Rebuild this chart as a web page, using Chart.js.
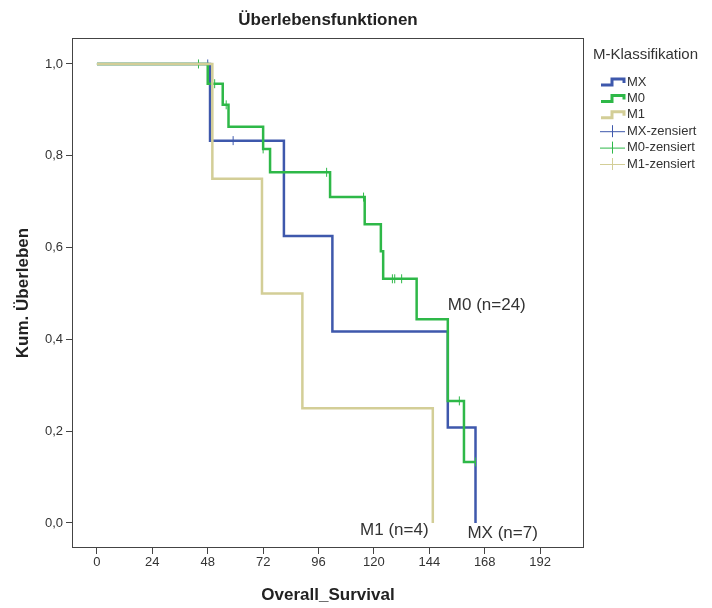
<!DOCTYPE html>
<html>
<head>
<meta charset="utf-8">
<script src="https://cdn.jsdelivr.net/npm/chart.js@4.4.1/dist/chart.umd.min.js"></script>
<style>
  body { margin: 0; background: #fff; }
  #wrap { width: 712px; height: 608px; }
</style>
</head>
<body>
<div id="wrap"><canvas id="km" width="712" height="608"></canvas></div>
<script>
// Kaplan-Meier steps (time in months, cumulative survival)
const mxTime = [0, 49, 81, 102, 152, 164];
const mxSurv = [1.0, 0.833, 0.625, 0.417, 0.208, 0.0];
const mxCensTime = [48, 59];
const mxCensSurv = [1.0, 0.833];

const m0Time = [0, 48, 54.5, 57, 72, 75, 101, 116, 123, 124, 138.5, 152, 159, 164];
const m0Surv = [1.0, 0.957, 0.911, 0.863, 0.815, 0.764, 0.710, 0.651, 0.592, 0.532, 0.444, 0.266, 0.133, 0.133];
const m0CensTime = [44, 51, 56, 72, 99.5, 115.5, 128, 129, 132, 157, 164];
const m0CensSurv = [1.0, 0.957, 0.911, 0.815, 0.764, 0.710, 0.532, 0.532, 0.532, 0.266, 0.133];

const m1Time = [0, 50, 71.5, 89, 145.5];
const m1Surv = [1.0, 0.75, 0.5, 0.25, 0.0];

const xTicks = [0, 24, 48, 72, 96, 120, 144, 168, 192];
const yTicks = [0, 0.2, 0.4, 0.6, 0.8, 1.0];

const groups = ['MX', 'M0', 'M1'];
const groupLabels = ['MX (n=7)', 'M0 (n=24)', 'M1 (n=4)'];

const BLUE = '#3e58ac';
const GREEN = '#2eb848';
const TAN = '#d3ce97';
const FONT = '"Liberation Sans", Arial, sans-serif';
const TEXT = '#333';

function pts(xs, ys) {
    return xs.map((x, i) => ({ x: x, y: ys[i] }));
}

function stepSet(label, xs, ys, color) {
    return {
        label: label,
        data: pts(xs, ys),
        borderColor: color,
        borderWidth: 2.5,
        stepped: 'before',
        pointRadius: 0,
        fill: false,
        borderCapStyle: 'butt'
    };
}

function censSet(label, xs, ys, color) {
    return {
        label: label,
        type: 'scatter',
        data: pts(xs, ys),
        borderColor: color,
        backgroundColor: color,
        pointStyle: 'line',
        rotation: 90,
        pointRadius: 4.5,
        borderWidth: 1,
        showLine: false
    };
}

// frame, title, legend and curve labels
const decorations = {
    id: 'decorations',
    afterDraw(chart) {
        const ctx = chart.ctx;
        const a = chart.chartArea;
        const xs = chart.scales.x;
        const ys = chart.scales.y;
        ctx.save();
        ctx.strokeStyle = '#444';
        ctx.lineWidth = 1;
        ctx.strokeRect(a.left + 0.5, a.top + 0.5, a.right - a.left - 1, a.bottom - a.top - 1);

        ctx.fillStyle = '#222';
        ctx.font = 'bold 17px ' + FONT;
        ctx.textAlign = 'center';
        ctx.textBaseline = 'middle';
        ctx.fillText('Überlebensfunktionen', (a.left + a.right) / 2, 20);

        // curve labels
        ctx.fillStyle = TEXT;
        ctx.font = '17px ' + FONT;
        ctx.textAlign = 'left';
        ctx.fillText(groupLabels[1], xs.getPixelForValue(152), ys.getPixelForValue(0.475));
        ctx.fillText(groupLabels[2], xs.getPixelForValue(114), ys.getPixelForValue(-0.015));
        ctx.fillText(groupLabels[0], xs.getPixelForValue(160.5), ys.getPixelForValue(-0.022));

        // legend
        ctx.font = '15px ' + FONT;
        ctx.fillText('M-Klassifikation', 593, 55);
        const colors = [BLUE, GREEN, TAN];
        ctx.font = '13px ' + FONT;
        for (let i = 0; i < 3; i++) {
            const y = 82 + i * 16.4;
            ctx.strokeStyle = colors[i];
            ctx.lineWidth = 3;
            ctx.beginPath();
            ctx.moveTo(601, y + 3);
            ctx.lineTo(612, y + 3);
            ctx.lineTo(612, y - 3);
            ctx.lineTo(624, y - 3);
            ctx.lineTo(624, y + 1);
            ctx.stroke();
            ctx.fillStyle = TEXT;
            ctx.fillText(groups[i], 627, y);
        }
        for (let i = 0; i < 3; i++) {
            const y = 82 + (i + 3) * 16.4;
            ctx.strokeStyle = colors[i];
            ctx.lineWidth = 1;
            ctx.beginPath();
            ctx.moveTo(600, y + 0.5);
            ctx.lineTo(625, y + 0.5);
            ctx.moveTo(612.5, y - 6);
            ctx.lineTo(612.5, y + 6);
            ctx.stroke();
            ctx.fillStyle = TEXT;
            ctx.fillText(groups[i] + '-zensiert', 627, y);
        }
        ctx.restore();
    }
};

new Chart(document.getElementById('km'), {
    type: 'line',
    data: {
        datasets: [
            stepSet('M1', m1Time, m1Surv, TAN),
            censSet('M0-zensiert', m0CensTime, m0CensSurv, GREEN),
            stepSet('M0', m0Time, m0Surv, GREEN),
            censSet('MX-zensiert', mxCensTime, mxCensSurv, BLUE),
            stepSet('MX', mxTime, mxSurv, BLUE)
        ]
    },
    options: {
        responsive: false,
        animation: false,
        layout: { padding: { top: 38, right: 128, left: 0, bottom: 0 } },
        plugins: {
            legend: { display: false },
            title: { display: false },
            tooltip: { enabled: false }
        },
        scales: {
            x: {
                type: 'linear',
                min: -10.8,
                max: 211,
                afterBuildTicks: (s) => { s.ticks = xTicks.map(v => ({ value: v })); },
                afterFit: (s) => { s.height = 60; },
                grid: { drawOnChartArea: false, drawTicks: true, tickLength: 6, color: '#444' },
                border: { display: false },
                ticks: { color: TEXT, font: { size: 13, family: FONT }, padding: 1, maxRotation: 0 },
                title: {
                    display: true,
                    text: 'Overall_Survival',
                    color: '#222',
                    font: { size: 17, weight: 'bold', family: FONT },
                    padding: { top: 0, bottom: 2 }
                }
            },
            y: {
                type: 'linear',
                min: -0.0545,
                max: 1.0566,
                afterBuildTicks: (s) => { s.ticks = yTicks.map(v => ({ value: v })); },
                afterFit: (s) => { s.width = 72; },
                grid: { drawOnChartArea: false, drawTicks: true, tickLength: 6, color: '#444' },
                border: { display: false },
                ticks: {
                    color: TEXT,
                    font: { size: 13, family: FONT },
                    padding: 3,
                    callback: (v) => v.toFixed(1).replace('.', ',')
                },
                title: {
                    display: true,
                    text: 'Kum. Überleben',
                    color: '#222',
                    font: { size: 17, weight: 'bold', family: FONT },
                    padding: { top: 13, bottom: 0 }
                }
            }
        }
    },
    plugins: [decorations]
});
</script>
</body>
</html>
